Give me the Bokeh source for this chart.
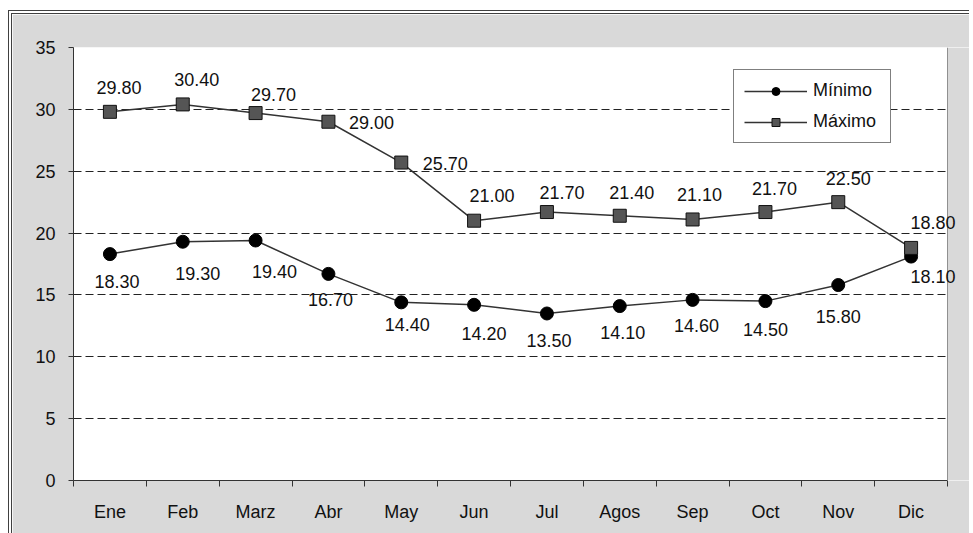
from bokeh.plotting import figure
from bokeh.models import FixedTicker, Span, Legend, LegendItem, Label, BoxAnnotation
from bokeh.embed import file_html
from bokeh.resources import INLINE

months = ["Ene", "Feb", "Marz", "Abr", "May", "Jun", "Jul", "Agos", "Sep", "Oct", "Nov", "Dic"]
minimo = [18.30, 19.30, 19.40, 16.70, 14.40, 14.20, 13.50, 14.10, 14.60, 14.50, 15.80, 18.10]
maximo = [29.80, 30.40, 29.70, 29.00, 25.70, 21.00, 21.70, 21.40, 21.10, 21.70, 22.50, 18.80]
y_ticks = [0, 5, 10, 15, 20, 25, 30, 35]
grid_ticks = [5, 10, 15, 20, 25, 30]

# data-label placement (screen pixel offsets from each marker)
max_dx = [9, 14, 18, 43, 44, 18, 15, 12, 7, 9, 10, 22]
max_dy = [24, 25, 19, -1, -1, 25, 20, 23, 25, 24, 24, 25]
min_dx = [7, 15, 19, 2, 6, 10, 2, 3, 4, 0, 0, 22]
min_dy = [-27, -32, -31, -26, -22, -29, -27, -26, -26, -28, -31, -20]

FONT = "Liberation Sans"
GRAY = "#d9d9d9"
xs = list(range(len(months)))
n = len(months)

# plot area spans 874 px for the 12 months; the frame is widened to the window edge
# (900 px) so that the last labels are not clipped, and the extra strip is painted gray
x_end = -0.5 + n * 900 / 874

p = figure(width=961, height=523, x_range=(-0.5, x_end), y_range=(0, 35),
           output_backend="svg", toolbar_location=None,
           min_border_left=61, min_border_right=0, min_border_top=33, min_border_bottom=57,
           border_fill_color=GRAY, background_fill_color="white",
           outline_line_color=None)
p.margin = (10, 0, 0, 8)
p.styles = {"border-left": "4px double #404040", "border-top": "4px double #404040"}

p.add_layout(BoxAnnotation(left=n - 0.5, fill_color=GRAY, fill_alpha=1, line_alpha=0, level="guide"))

# axes
p.xaxis.ticker = FixedTicker(ticks=xs, minor_ticks=[i - 0.5 for i in range(n + 1)])
p.xaxis.bounds = (-0.5, n - 0.5)
p.xaxis.major_label_overrides = {i: m for i, m in zip(xs, months)}
p.xaxis.major_tick_out = 0
p.xaxis.major_tick_in = 0
p.xaxis.minor_tick_out = 6
p.xaxis.minor_tick_in = 0
p.xaxis.minor_tick_line_color = "#333333"
p.xaxis.major_label_standoff = 15

p.yaxis.ticker = FixedTicker(ticks=y_ticks)
p.yaxis.major_tick_out = 5
p.yaxis.major_tick_in = 0
p.yaxis.minor_tick_line_color = None
p.yaxis.major_label_standoff = 13

for ax in (p.xaxis, p.yaxis):
    ax.axis_line_color = "#333333"
    ax.major_tick_line_color = "#333333"
    ax.major_label_text_font = FONT
    ax.major_label_text_font_size = "18px"
    ax.major_label_text_color = "#111111"

p.xgrid.visible = False
p.ygrid.ticker = FixedTicker(ticks=grid_ticks)
p.ygrid.grid_line_color = "#222222"
p.ygrid.grid_line_dash = "8 4"
p.ygrid.grid_line_width = 1

p.add_layout(Span(location=n - 0.5, dimension="height", line_color="#909090", line_width=1))

# series
lmin = p.line(xs, minimo, line_color="#333333", line_width=1.5)
smin = p.scatter(xs, minimo, marker="circle", size=13, fill_color="black", line_color="black")
lmax = p.line(xs, maximo, line_color="#333333", line_width=1.5)
smax = p.scatter(xs, maximo, marker="square", size=13, fill_color="#555555", line_color="#111111")

# data labels
for vals, dx, dy in ((maximo, max_dx, max_dy), (minimo, min_dx, min_dy)):
    for x, v, ox, oy in zip(xs, vals, dx, dy):
        p.add_layout(Label(x=x, y=v, text=f"{v:.2f}", x_offset=ox, y_offset=oy,
                           text_align="center", text_baseline="middle", text_font=FONT,
                           text_font_size="18px", text_color="#111111"))

legend = Legend(items=[LegendItem(label="Mínimo", renderers=[lmin, smin]),
                       LegendItem(label="Máximo", renderers=[lmax, smax])],
                location=(660, 337), padding=10, spacing=10, margin=0,
                glyph_width=63, glyph_height=20, label_height=20, label_width=67,
                label_standoff=6, label_text_font=FONT, label_text_font_size="18px",
                label_text_color="#111111", border_line_color="black", border_line_width=1,
                background_fill_color="white", background_fill_alpha=1)
p.add_layout(legend)

open("out.html", "w").write(file_html(p, INLINE))
